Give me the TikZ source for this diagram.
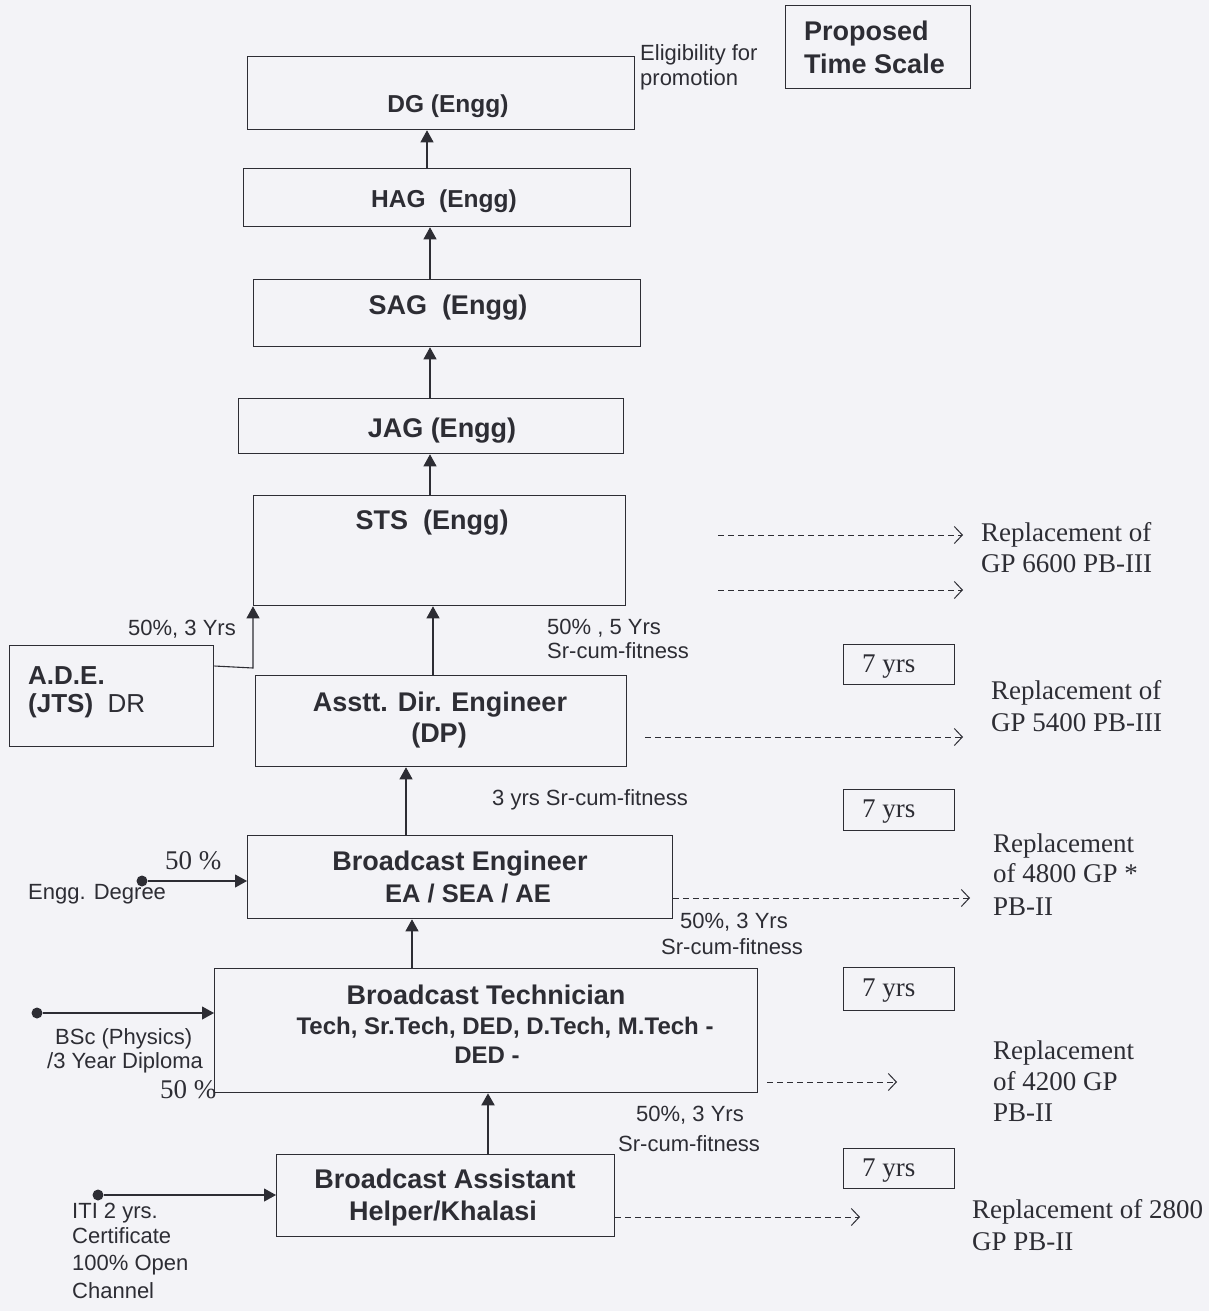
\documentclass[tikz,border=0pt]{standalone}
\usepackage{fontspec}
\setmainfont{Liberation Sans}
\newfontfamily\serif{Liberation Serif}
\usetikzlibrary{arrows.meta}
\definecolor{bg}{RGB}{243,243,247}
\definecolor{ink}{RGB}{45,45,52}
\begin{document}
\begin{tikzpicture}[x=1pt,y=-1pt,
  box/.style={draw=ink, line width=1.3pt, fill=bg, inner sep=0pt, anchor=north west},
  yrbox/.style={box, minimum width=111pt, minimum height=41pt},
  title/.style={font=\fontsize{27}{32}\selectfont\bfseries, text=ink, inner sep=0pt, anchor=base},
  sub/.style={font=\fontsize{24.5}{30}\selectfont\bfseries, text=ink, inner sep=0pt, anchor=base},
  lab/.style={font=\fontsize{22}{25}\selectfont, text=ink, inner sep=0pt, anchor=base west},
  ser/.style={font=\serif\fontsize{27}{31}\selectfont, text=ink, inner sep=0pt, anchor=base west},
  arr/.style={draw=ink, line width=1.1pt, -{Triangle[length=12pt,width=13pt]}},
  darr/.style={draw=ink, line width=1pt, dash pattern=on 6pt off 4pt, -{Straight Barb[length=8pt,width=17pt]}},
  dot/.style={circle, fill=ink, inner sep=0pt, minimum size=11pt}
]
\fill[bg] (0,0) rectangle (1209,1311);
\useasboundingbox (0,0) rectangle (1209,1311);

% boxes
\node[box, minimum width=387pt, minimum height=73pt] (dg) at (247,56) {};
\node[box, minimum width=387pt, minimum height=58pt] (hag) at (243,168) {};
\node[box, minimum width=387pt, minimum height=67pt] (sag) at (253,279) {};
\node[box, minimum width=385pt, minimum height=55pt] (jag) at (238,398) {};
\node[box, minimum width=372pt, minimum height=110pt] (sts) at (253,495) {};
\node[box, minimum width=204pt, minimum height=101pt] (adedr) at (9,645) {};
\node[box, minimum width=371pt, minimum height=91pt] (adp) at (255,675) {};
\node[box, minimum width=425pt, minimum height=83pt] (be) at (247,835) {};
\node[box, minimum width=543pt, minimum height=124pt] (bt) at (214,968) {};
\node[box, minimum width=338pt, minimum height=82pt] (ba) at (276,1154) {};
\node[box, minimum width=185pt, minimum height=83pt] (pts) at (785,5) {};
\node[yrbox, minimum height=40pt] (y1) at (843,644) {};
\node[yrbox] (y2) at (843,789) {};
\node[yrbox, minimum height=43pt] (y3) at (843,967) {};
\node[yrbox, minimum height=40pt] (y4) at (843,1148) {};
\node[ser] (ty1) at (862,672) {7 yrs};
\node[ser] (ty2) at (862,817) {7 yrs};
\node[ser] (ty3) at (862,996) {7 yrs};
\node[ser] (ty4) at (862,1176) {7 yrs};

% box texts
\node[sub] (tdg) at (448,113) {DG (Engg)};
\node[sub] (thag) at (444,207) {HAG\ \ (Engg)};
\node[title] (tsag) at (448,314) {SAG\ \ (Engg)};
\node[title] (tjag) at (442,437) {JAG (Engg)};
\node[title] (tsts) at (432,529) {STS\ \ (Engg)};
\node[title] (tadp1) at (440,711) {Asstt. Dir. Engineer};
\node[title] (tadp2) at (439,742) {(DP)};
\node[title] (tbe1) at (460,870) {Broadcast Engineer};
\node[sub, font=\fontsize{25.5}{30}\selectfont\bfseries] (tbe2) at (468,902) {EA / SEA / AE};
\node[title] (tbt1) at (486,1004) {Broadcast Technician};
\node[sub, font=\fontsize{24}{30}\selectfont\bfseries] (tbt2) at (505,1034) {Tech, Sr.Tech, DED, D.Tech, M.Tech -};
\node[sub, font=\fontsize{24}{30}\selectfont\bfseries] (tbt3) at (487,1063) {DED -};
\node[title] (tba1) at (445,1188) {Broadcast Assistant};
\node[title] (tba2) at (443,1220) {Helper/Khalasi};
\node[title, anchor=base west, font=\fontsize{26}{30}\selectfont\bfseries] (tade1) at (28,684) {A.D.E.};
\node[title, anchor=base west, font=\fontsize{26}{30}\selectfont] (tade2) at (28,712) {\textbf{(JTS)}\ \ DR};
\node[title, anchor=base west] (tpts1) at (804,41) {Proposed};
\node[title, anchor=base west] (tpts2) at (804,74) {Time Scale};

% vertical promotion arrows
\draw[arr] (hag.north -| 427,0) -- (dg.south -| 427,0);
\draw[arr] (sag.north -| 430,0) -- (hag.south -| 430,0);
\draw[arr] (jag.north -| 430,0) -- (sag.south -| 430,0);
\draw[arr] (sts.north -| 430,0) -- (jag.south -| 430,0);
\draw[arr] (adp.north -| 433,0) -- (sts.south -| 433,0);
\draw[arr] (be.north -| 406,0) -- (adp.south -| 406,0);
\draw[arr] (bt.north -| 412,0) -- (be.south -| 412,0);
\draw[arr, line width=2pt] (ba.north -| 488,0) -- (bt.south -| 488,0);
\draw[arr] (adedr.east |- 0,666) -- (sts.south west |- 0,668) -- (sts.south west);

% entry arrows
\node[dot] (d1) at (142,881) {};
\node[dot] (d2) at (37,1013) {};
\node[dot] (d3) at (98,1195) {};
\draw[arr] (d1) -- (be.west |- d1);
\draw[arr] (d2) -- (bt.west |- d2);
\draw[arr] (d3) -- (ba.west |- d3);

% labels
\node[lab] (el1) at (640,61) {Eligibility for};
\node[lab] (el2) at (640,86) {promotion};
\node[lab] (l1) at (128,635) {50\%, 3 Yrs};
\node[lab] (l2) at (547,634) {50\% , 5 Yrs};
\node[lab] (l3) at (547,658) {Sr-cum-fitness};
\node[lab] (l4) at (492,805) {3 yrs Sr-cum-fitness};
\node[lab] (l5) at (680,928) {50\%, 3 Yrs};
\node[lab] (l6) at (661,954) {Sr-cum-fitness};
\node[lab] (l7) at (636,1121) {50\%, 3 Yrs};
\node[lab] (l8) at (618,1151) {Sr-cum-fitness};
\node[lab] (l9) at (28,899) {Engg. Degree};
\node[lab] (l10) at (55,1044) {BSc (Physics)};
\node[lab] (l11) at (47,1068) {/3 Year Diploma};
\node[lab] (l12) at (72,1218) {ITI 2 yrs.};
\node[lab] (l13) at (72,1243) {Certificate};
\node[lab] (l14) at (72,1270) {100\% Open};
\node[lab] (l15) at (72,1298) {Channel};
\node[ser] (s1) at (165,869) {50 \%};
\node[ser] (s2) at (160,1098) {50 \%};

% replacement texts
\node[ser] (r1a) at (981,541) {Replacement of};
\node[ser] (r1b) at (981,572) {GP 6600 PB-III};
\node[ser] (r2a) at (991,699) {Replacement of};
\node[ser] (r2b) at (991,731) {GP 5400 PB-III};
\node[ser] (r3a) at (993,852) {Replacement};
\node[ser] (r3b) at (993,882) {of 4800 GP *};
\node[ser] (r3c) at (993,915) {PB-II};
\node[ser] (r4a) at (993,1059) {Replacement};
\node[ser] (r4b) at (993,1090) {of 4200 GP};
\node[ser] (r4c) at (993,1121) {PB-II};
\node[ser] (r5a) at (972,1218) {Replacement of 2800};
\node[ser] (r5b) at (972,1250) {GP PB-II};

% dashed arrows
\coordinate (a1s) at (718,535); \coordinate (a1e) at (963,535);
\coordinate (a2s) at (718,590); \coordinate (a2e) at (963,590);
\coordinate (a3s) at (645,737); \coordinate (a3e) at (963,737);
\coordinate (a4e) at (970,898);
\coordinate (a5s) at (767,1082); \coordinate (a5e) at (897,1082);
\coordinate (a6e) at (860,1217);
\draw[darr] (a1s) -- (a1e);
\draw[darr] (a2s) -- (a2e);
\draw[darr] (a3s) -- (a3e);
\draw[darr] (be.east |- a4e) -- (a4e);
\draw[darr] (a5s) -- (a5e);
\draw[darr] (ba.east |- a6e) -- (a6e);
\end{tikzpicture}
\end{document}
